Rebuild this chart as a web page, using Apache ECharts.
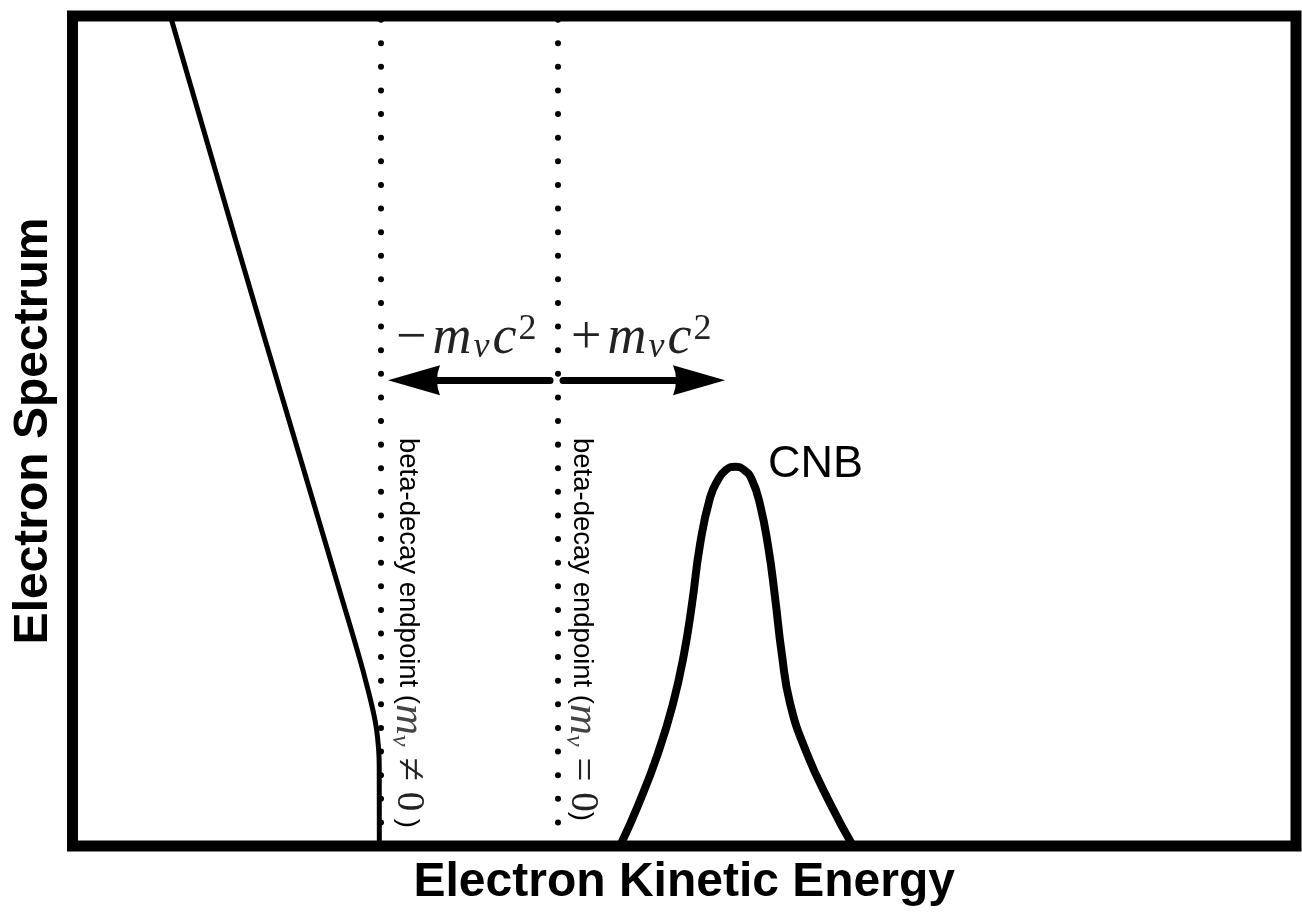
<!DOCTYPE html>
<html><head><meta charset="utf-8">
<script src="https://cdn.jsdelivr.net/npm/echarts/dist/echarts.min.js"></script>
<style>html,body{margin:0;padding:0;background:#fff}#c{width:1302px;height:912px}</style>
</head><body><div id="c"></div>
<script>
// Beta-decay spectrum near the endpoint (arbitrary units 0..100)
const betaX = [8.0, 13.31, 18.37, 21.99, 23.5, 24.19, 24.58, 24.84, 25.0, 25.07, 25.08];
const betaY = [100, 73.14, 47.96, 29.98, 22.42, 18.59, 16.19, 14.15, 12.0, 9.59, 0];
// CNB capture peak
const cnbX = [44.75, 46.30, 47.85, 49.08, 49.98, 50.63, 51.29, 52.11, 52.76, 53.41, 54.15, 54.88, 55.53, 56.19, 56.87, 57.42, 57.97, 58.65, 60.01, 61.9, 63.79];
const cnbY = [0, 5.16, 11.15, 17.15, 23.14, 29.14, 36.33, 41.97, 44.12, 45.32, 45.68, 45.32, 44.12, 41.16, 35.97, 29.98, 23.18, 17.18, 11.19, 5.19, 0];
// endpoint positions (m_nu != 0, m_nu = 0)
const endpointX = [25.21, 39.68];
// shift arrows: [from, to] along energy axis, at a given level
const arrowFrom = [39.03, 40.09];
const arrowTo = [27.91, 51.21];
const arrowLevel = 56.12;
const xName = 'Electron Kinetic Energy';
const yName = 'Electron Spectrum';

const arrowHead = 'path://M15,0 L30,52 Q15,46 0,52 Z';
const chart = echarts.init(document.getElementById('c'));

const serif = 'Liberation Serif';
const ink = '#222';
const mathRich = {
  t: {fontFamily: serif, fontSize: 54, fill: ink, padding: [0, 6, 0, 0]},
  i: {fontFamily: serif, fontStyle: 'italic', fontSize: 54, fill: ink, padding: [0, 2, 0, 0]},
  s: {fontFamily: serif, fontStyle: 'italic', fontSize: 36, fill: ink, verticalAlign: 'bottom', lineHeight: 36, padding: [0, 3, 0, 0]},
  p: {fontFamily: serif, fontSize: 36, fill: ink, verticalAlign: 'top', lineHeight: 36}
};

const vRich = {
  a: {fontFamily: 'Liberation Sans', fontSize: 27.5, fill: '#000'},
  i: {fontFamily: serif, fontStyle: 'italic', fontSize: 43, fill: '#444'},
  s: {fontFamily: serif, fontStyle: 'italic', fontSize: 26, fill: '#444', verticalAlign: 'bottom', lineHeight: 26},
  r: {fontFamily: serif, fontSize: 43, fill: '#222'},
  z: {fontFamily: serif, fontSize: 39, fill: '#222'}
};

chart.setOption({
  animation: false,
  backgroundColor: '#fff',
  grid: {left: 72.5, right: 6, top: 16, bottom: 62, show: true, borderColor: '#000', borderWidth: 11},
  xAxis: {
    type: 'value', min: 0, max: 100,
    axisLine: {show: false}, axisTick: {show: false}, axisLabel: {show: false}, splitLine: {show: false},
    name: xName, nameLocation: 'middle', nameGap: 13,
    nameTextStyle: {fontFamily: 'Liberation Sans', fontWeight: 'bold', fontSize: 48, color: '#000', verticalAlign: 'top'}
  },
  yAxis: {
    type: 'value', min: 0, max: 100,
    axisLine: {show: false}, axisTick: {show: false}, axisLabel: {show: false}, splitLine: {show: false},
    name: yName, nameLocation: 'middle', nameGap: 15,
    nameTextStyle: {fontFamily: 'Liberation Sans', fontWeight: 'bold', fontSize: 48, color: '#000', verticalAlign: 'bottom'}
  },
  series: [
    {
      type: 'line', data: betaX.map((x, i) => [x, betaY[i]]), smooth: 0.5, symbol: 'none',
      lineStyle: {color: '#000', width: 5}, z: 3,
      markLine: {
        silent: true, animation: false, symbol: ['none', 'none'], label: {show: false},
        lineStyle: {color: '#000', width: 6, type: [0.01, 23.6], cap: 'round'},
        data: endpointX.map(x => [{coord: [x, 0]}, {coord: [x, 100]}])
      }
    },
    {
      type: 'line', data: cnbX.map((x, i) => [x, cnbY[i]]), smooth: 0.5, symbol: 'none',
      lineStyle: {color: '#000', width: 8}, z: 3,
      markLine: {
        silent: true, animation: false, symbol: ['none', 'none'], label: {show: false},
        lineStyle: {color: '#000', width: 7, type: 'solid', cap: 'round'},
        data: arrowFrom.map((f, i) => [
          {coord: [f, arrowLevel], symbol: 'none'},
          {coord: [arrowTo[i], arrowLevel], symbol: arrowHead, symbolSize: [30, 52]}
        ])
      }
    }
  ],
  graphic: [
    {type: 'text', x: 396, y: 366, style: {text: '{t|−}{i|m}{s|ν}{i|c}{p|2}', rich: mathRich, align: 'left', verticalAlign: 'bottom'}},
    {type: 'text', x: 571, y: 366, style: {text: '{t|+}{i|m}{s|ν}{i|c}{p|2}', rich: mathRich, align: 'left', verticalAlign: 'bottom'}},
    {type: 'text', x: 408, y: 438, rotation: -Math.PI / 2, style: {text: '{a|beta-decay endpoint (}{i|m}{s|ν}{r| ≠ }{z|0}{a| )}', rich: vRich, align: 'left', verticalAlign: 'middle'}},
    {type: 'text', x: 582, y: 438, rotation: -Math.PI / 2, style: {text: '{a|beta-decay endpoint (}{i|m}{s|ν}{r| = }{z|0}{a|)}', rich: vRich, align: 'left', verticalAlign: 'middle'}},
    {type: 'text', x: 768, y: 465, style: {text: 'CNB', fontFamily: 'Liberation Sans', fontSize: 45, fill: '#000', align: 'left', verticalAlign: 'middle'}}
  ]
});
</script></body></html>
